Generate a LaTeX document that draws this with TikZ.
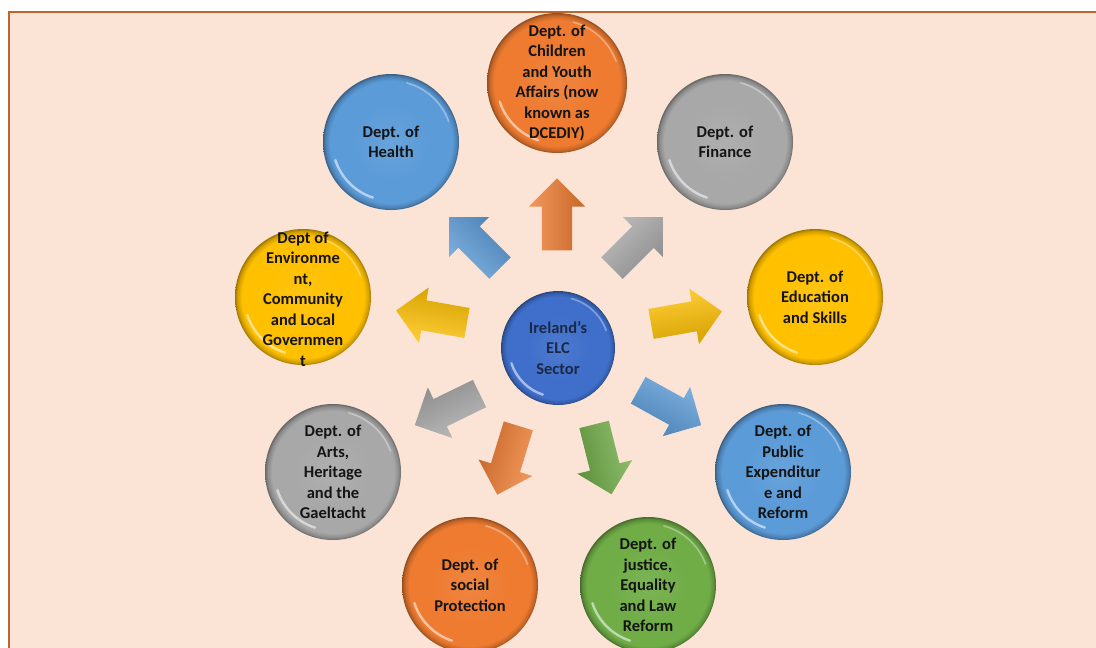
\documentclass[tikz,border=0pt]{standalone}
\usepackage{fontspec}
\setmainfont{Carlito}
\usetikzlibrary{shapes.arrows}

\definecolor{bgpeach}{HTML}{FBE4D5}
\definecolor{framecol}{HTML}{C0652A}
\definecolor{cOrange}{HTML}{EE7B30}
\definecolor{cBlue}{HTML}{5B9BD8}
\definecolor{cGrey}{HTML}{A8A8A8}
\definecolor{cYellow}{HTML}{FFC000}
\definecolor{cGreen}{HTML}{70AD47}
\definecolor{cCore}{HTML}{3F6FCB}
\definecolor{inkdark}{HTML}{141414}
\definecolor{inknavy}{HTML}{1C2946}

% radial shading of a glossy button; bcol is set before each use
\pgfdeclareradialshading[bcol]{bubble}{\pgfpoint{0bp}{0bp}}{%
  color(0bp)=(bcol!92!white); color(14bp)=(bcol); color(22.5bp)=(bcol);
  color(24.2bp)=(bcol!82!black); color(25bp)=(bcol!62!black);
  color(50bp)=(bcol!62!black)}

\newcommand\Bubble[5]{% name, x, y, radius, colour
  \begin{scope}
    \colorlet{bcol}{#5}
    \node[bubble, minimum size=2*#4] (#1) at (#2,-#3) {};
    \draw[white, opacity=0.55, line width=2.4pt, line cap=round]
      ([shift={(198:#4*0.86)}]#1.center) arc[start angle=198, end angle=252, radius=#4*0.86];
    \draw[white, opacity=0.35, line width=1.6pt, line cap=round]
      ([shift={(20:#4*0.9)}]#1.center) arc[start angle=20, end angle=75, radius=#4*0.9];
  \end{scope}}

\begin{document}
\begin{tikzpicture}[x=1pt,y=1pt,
  bubble/.style={circle, inner sep=0pt, shading=bubble},
  % block arrow: direction, colour; the shading runs across the shaft
  blockarrow/.style 2 args={single arrow, draw=none, inner xsep=0pt, inner ysep=15pt,
    minimum height=72pt, single arrow head extend=13pt, rotate=#1,
    top color=#2!78!white, middle color=#2, bottom color=#2!84!black,
    shading angle=#1},
  deptext/.style={align=center, text=inkdark, inner sep=0pt,
    font=\bfseries\fontsize{16.5}{20.5}\selectfont}]

\useasboundingbox (0,0) rectangle (1096,-648);
\fill[white] (0,0) rectangle (1096,-648);
\filldraw[fill=bgpeach, draw=framecol, line width=2.6pt]
  (9,-12) rectangle (1110,-665);

% departments around the sector
\Bubble{cyf}{557}{83}{70}{cOrange}
\Bubble{health}{391}{142}{68}{cBlue}
\Bubble{finance}{725}{142}{68}{cGrey}
\Bubble{env}{303}{297}{68}{cYellow}
\Bubble{edu}{815}{297}{68}{cYellow}
\Bubble{arts}{333}{472}{68}{cGrey}
\Bubble{pubexp}{783}{472}{68}{cBlue}
\Bubble{social}{470}{585}{68}{cOrange}
\Bubble{justice}{648}{585}{68}{cGreen}
\Bubble{core}{558}{348}{57}{cCore}

% block arrows pointing outwards
\node[blockarrow={90}{cOrange}]  (aCyf)     at (557,-222) {};
\node[blockarrow={135}{cBlue}]   (aHealth)  at (480,-248) {};
\node[blockarrow={45}{cGrey}]    (aFinance) at (632,-248) {};
\node[blockarrow={170}{cYellow}] (aEnv)     at (439,-318) {};
\node[blockarrow={10}{cYellow}]  (aEdu)     at (679,-319) {};
\node[blockarrow={206}{cGrey}]   (aArts)    at (454,-406) {};
\node[blockarrow={-29}{cBlue}]   (aPubexp)  at (663,-404) {};
\node[blockarrow={253}{cOrange}] (aSocial)  at (510,-453) {};
\node[blockarrow={284}{cGreen}]  (aJustice) at (601,-452) {};

% labels
\node[deptext] (tCyf) at (cyf) {Dept. of\\Children\\and Youth\\Affairs (now\\known as\\DCEDIY)};
\node[deptext] (tHealth) at (health) {Dept. of\\Health};
\node[deptext] (tFinance) at (finance) {Dept. of\\Finance};
\node[deptext] (tEnv) at ([yshift=-2]env) {Dept of\\Environme\\nt,\\Community\\and Local\\Governmen\\t};
\node[deptext] (tEdu) at (edu) {Dept. of\\Education\\and Skills};
\node[deptext] (tArts) at (arts) {Dept. of\\Arts,\\Heritage\\and the\\Gaeltacht};
\node[deptext] (tPubexp) at (pubexp) {Dept. of\\Public\\Expenditur\\e and\\Reform};
\node[deptext] (tSocial) at (social) {Dept. of\\social\\Protection};
\node[deptext] (tJustice) at (justice) {Dept. of\\justice,\\Equality\\and Law\\Reform};
\node[deptext, text=inknavy] (tCore) at (core) {Ireland’s\\ELC\\Sector};
\end{tikzpicture}
\end{document}
